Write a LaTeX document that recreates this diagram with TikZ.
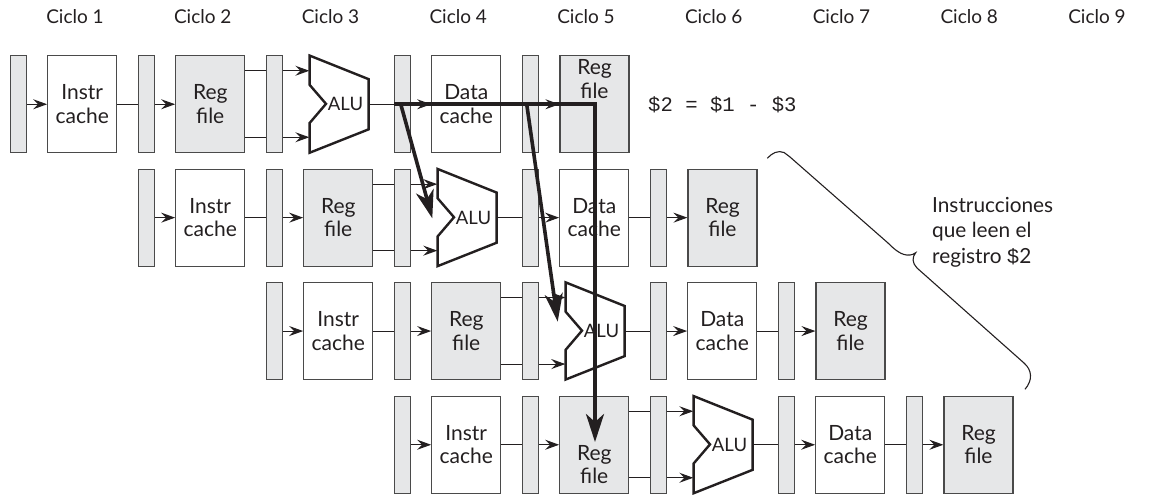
\documentclass[tikz,border=0pt]{standalone}
\usepackage{fontspec}
\setmainfont{Lato}
\newfontfamily\monof{Liberation Mono}
\usetikzlibrary{arrows.meta,backgrounds,calc}
\definecolor{ink}{HTML}{231F20}
\definecolor{edge}{HTML}{4A4A4A}
\definecolor{pale}{HTML}{E6E7E8}
\tikzset{
  x=1pt,y=-1pt,
  latchbox/.style={draw=edge,fill=pale,line width=1.2pt,minimum width=16pt,minimum height=97pt,inner sep=0pt},
  membox/.style={draw=edge,fill=white,line width=1.2pt,minimum width=69pt,minimum height=97pt,inner sep=0pt},
  regbox/.style={membox,fill=pale},
  boxtext/.style={align=center,font=\fontsize{21}{23.5}\selectfont,text=ink,inner sep=0pt},
  aluframe/.style={minimum width=59pt,minimum height=97pt,inner sep=0pt},
  aluline/.style={draw=ink,fill=white,line width=2.4pt,miter limit=10},
  alutext/.style={font=\fontsize{18.5}{20}\selectfont,text=ink,inner sep=0pt},
  wire/.style={draw=ink,line width=1.1pt,-{Stealth[length=14pt,width=10pt,inset=5pt]}},
  forward/.style={draw=ink,line width=3.6pt,-{Stealth[length=28pt,width=18pt,inset=8pt]}},
  cyc/.style={font=\fontsize{19}{22}\selectfont,text=ink,inner sep=0pt},
  note/.style={font=\fontsize{20.8}{25.5}\selectfont,text=ink,align=left,inner sep=0pt},
  eqn/.style={font=\monof\fontsize{20.6}{22}\selectfont,text=ink,inner sep=0pt},
  bracket/.style={draw=ink,line width=1.1pt}
}
% #1 row, #2 dx, #3 dy, #4 text shift of the first register file, #5 of the last
\newcommand{\piperow}[5]{%
\begin{scope}[shift={(#2,#3)}]
  \node[latchbox] (la#1) at (18.25,104.25) {};
  \node[membox,label={[boxtext]center:{Instr\\cache}}] (im#1) at (82.25,104.25) {};
  \node[latchbox] (lb#1) at (146.5,104.25) {};
  \node[regbox,label={[boxtext,yshift=#4pt]center:{Reg\\file}}] (rf#1) at (210.25,104.25) {};
  \node[latchbox] (lc#1) at (274.5,104.25) {};
  \node[aluframe] (alu#1) at (339,104.25) {};
  \draw[aluline] ($(alu#1.north west)+(0.3,0)$) -- ++(59,23.6) -- ++(0,50.2) -- ++(-59,23.4) -- ++(0,-29.7) -- ++(16.4,-19.2) -- ++(-16.4,-19) -- cycle;
  \node[alutext] (alt#1) at (345.5,104.25) {ALU};
  \node[latchbox] (ld#1) at (402.75,104.25) {};
  \node[membox,label={[boxtext]center:{Data\\cache}}] (dm#1) at (466.25,104.25) {};
  \node[latchbox] (le#1) at (530.75,104.25) {};
  \node[regbox,label={[boxtext,yshift=#5pt]center:{Reg\\file}}] (wb#1) at (594.5,104.25) {};
\end{scope}
\begin{scope}[on background layer]
  \draw[wire] (la#1.center) -- (im#1.west);
  \draw[wire] (im#1.east) -- (rf#1.west);
  \draw[wire] ($(rf#1.east)+(0,-33.5)$) -- ($(alu#1.west)+(0,-33.5)$);
  \draw[wire] ($(rf#1.east)+(0,33)$) -- ($(alu#1.west)+(0,33)$);
  \draw[wire] (alu#1.east) -- (dm#1.west);
  \draw[wire] (dm#1.east) -- (wb#1.west);
\end{scope}
}
\begin{document}
\begin{tikzpicture}
\useasboundingbox (0,0) rectangle (1151,495);
\foreach \lab [count=\i] in {1,...,9}
  \node[cyc] (cy\i) at ({75+127.75*(\i-1)},17) {Ciclo \lab};
\piperow{1}{0}{0}{0}{25}
\piperow{2}{128}{113.4}{0}{0}
\piperow{3}{256}{226.8}{0}{0}
\piperow{4}{384}{340.5}{-20}{0}
\node[eqn,anchor=west] (eq) at (648,105) {\$2 = \$1 - \$3};
\node[note,anchor=north west] (ins) at (932,197) {Instrucciones\\que leen el\\registro {\monof\$}2};
\coordinate (fa) at (394,104);
\coordinate (fb) at (400.7,104);
\coordinate (fc) at (432.3,218.3);
\coordinate (fd) at (526.7,104);
\coordinate (fe) at (557.7,321.7);
\coordinate (ff) at (595,104);
\coordinate (fg) at (595,442);
\draw[forward] (fa) -- (ff) -- (fg);
\draw[forward] (fb) -- (fc);
\draw[forward] (fd) -- (fe);
\draw[bracket] (767.3,158.3) .. controls (772,153) and (778,150) .. (784,152.5)
  -- (790,157) -- (888,243) .. controls (895,250) and (902,256) .. (910,255)
  .. controls (912,254.8) and (914,254) .. (915.7,252.7)
  .. controls (912,257) and (912,263) .. (917,268)
  -- (1024,363) .. controls (1032,370) and (1033,380) .. (1025,389.3);
\end{tikzpicture}
\end{document}
